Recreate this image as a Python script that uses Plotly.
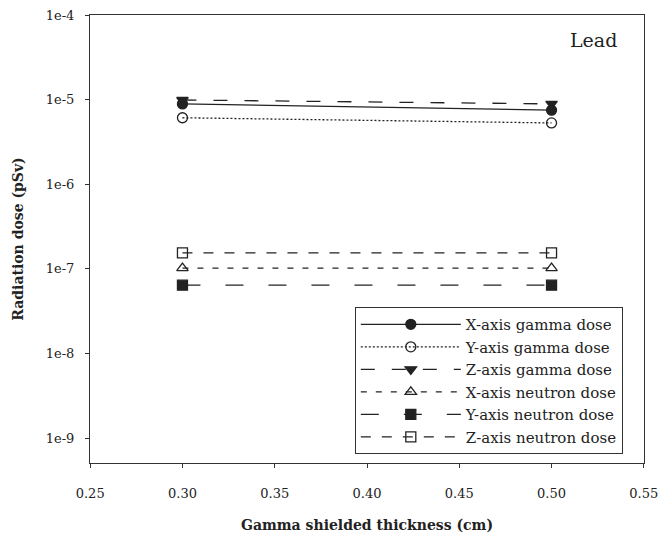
import plotly.graph_objects as go

thickness = [0.30, 0.50]
x_gamma = [8.9e-6, 7.5e-6]
y_gamma = [6.1e-6, 5.3e-6]
z_gamma = [9.9e-6, 8.9e-6]
x_neutron = [1.02e-7, 1.02e-7]
y_neutron = [6.4e-8, 6.4e-8]
z_neutron = [1.54e-7, 1.54e-7]

names = ["X-axis gamma dose", "Y-axis gamma dose", "Z-axis gamma dose",
         "X-axis neutron dose", "Y-axis neutron dose", "Z-axis neutron dose"]
series = [x_gamma, y_gamma, z_gamma, x_neutron, y_neutron, z_neutron]
symbols = ["circle", "circle-open", "triangle-down", "triangle-up-open", "square", "square-open"]
dashes = ["solid", "2px,2px", "14px,17px", "6px,9px", "18px,25px", "10px,11px"]

ytickvals = [1e-9, 1e-8, 1e-7, 1e-6, 1e-5, 1e-4]
yticktext = ["1e-9", "1e-8", "1e-7", "1e-6", "1e-5", "1e-4"]
xtickvals = [0.25, 0.30, 0.35, 0.40, 0.45, 0.50, 0.55]
xticktext = ["0.25", "0.30", "0.35", "0.40", "0.45", "0.50", "0.55"]

fig = go.Figure()
for n, s, sym, d in zip(names, series, symbols, dashes):
    fig.add_trace(go.Scatter(
        x=thickness, y=s, name=n, mode="lines+markers",
        line=dict(color="#222", width=1.3, dash=d),
        marker=dict(symbol=sym, size=10, color="#222",
                    line=dict(color="#222", width=1.3)),
    ))

font = "DejaVu Serif"
fig.update_layout(
    width=658, height=543,
    margin=dict(l=90, r=14, t=15, b=80),
    paper_bgcolor="white", plot_bgcolor="white",
    font=dict(family=font, color="#222", size=13),
    showlegend=True,
    legend=dict(x=0.478, y=0.348, xanchor="left", yanchor="top",
                bordercolor="#333", borderwidth=1, bgcolor="white",
                font=dict(family=font, size=15, color="#222"),
                itemwidth=100, tracegroupgap=0),
    annotations=[dict(text="Lead", x=0.908, y=0.944, xref="paper", yref="paper",
                      xanchor="center", yanchor="middle",
                      showarrow=False, font=dict(family=font, size=19, color="#222"))],
)
fig.update_xaxes(range=[0.2499, 0.5501], tickvals=xtickvals, ticktext=xticktext,
                 showline=True, linecolor="#333", linewidth=1, mirror=True,
                 ticks="outside", ticklen=4, tickcolor="#333", showgrid=False,
                 zeroline=False, ticklabelstandoff=14, automargin=False,
                 ticklabeloverflow="allow",
                 title=dict(text="<b>Gamma shielded thickness (cm)</b>", standoff=20,
                            font=dict(family=font, size=14)))
fig.update_yaxes(type="log", range=[-9.295, -4], tickvals=ytickvals, ticktext=yticktext,
                 showline=True, linecolor="#333", linewidth=1, mirror=True,
                 ticks="outside", ticklen=4, tickcolor="#333", showgrid=False,
                 zeroline=False, ticklabelstandoff=8, automargin=False,
                 title=dict(text="<b>Radiation dose (pSv)</b>", standoff=18,
                            font=dict(family=font, size=14)))

fig.write_html("out.html")
